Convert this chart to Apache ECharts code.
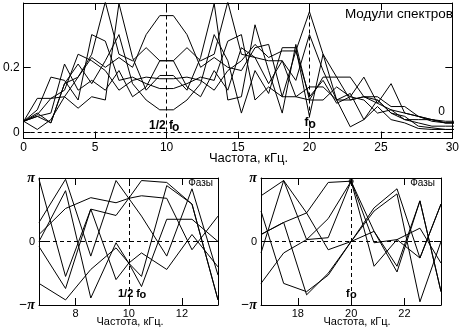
<!DOCTYPE html>
<html><head><meta charset="utf-8">
<script src="https://cdn.jsdelivr.net/npm/echarts@6/dist/echarts.min.js"></script>
<style>html,body{margin:0;padding:0;background:#fff}#c{width:462px;height:332px}</style>
</head><body><div id="c"></div>
<script>
// ---- data ----
const fTop = [0,0.952,1.905,2.857,3.81,4.762,5.714,6.667,7.619,8.571,9.524,10.476,11.429,12.381,13.333,14.286,15.238,16.19,17.143,18.095,19.048,20,20.952,21.905,22.857,23.81,24.762,25.714,26.667,27.619,28.571,29.524,30.476];
const mod1 = [.035,.055,.105,.11,.17,.23,.20,.23,.20,.30,.358,.358,.30,.20,.23,.20,.19,.26,.27,.11,.25,.37,.24,.17,.10,.11,.11,.08,.08,.05,.04,.03,.03];
const mod2 = [.035,.05,.03,.15,.17,.24,.40,.24,.22,.26,.22,.22,.26,.22,.24,.40,.24,.23,.22,.22,.16,.30,.19,.10,.12,.04,.10,.06,.05,.02,.015,.01,.01];
const mod3 = [.035,.01,.04,.11,.075,.11,.10,.395,.23,.13,.175,.175,.13,.23,.395,.10,.11,.33,.19,.06,.27,.10,.17,.17,.17,.11,.09,.07,.06,.05,.04,.03,.03];
const mod4 = [.035,.06,.03,.15,.21,.15,.22,.30,.15,.10,.07,.07,.10,.15,.30,.22,.06,.19,.12,.26,.26,.05,.24,.10,.018,.04,.08,.04,.03,.013,.01,.01,.01];
const mod5 = [.035,.105,.105,.13,.24,.22,.19,.13,.16,.17,.165,.165,.17,.16,.13,.19,.22,.27,.23,.25,.25,.11,.16,.09,.11,.17,.09,.15,.06,.05,.035,.03,.03];
const mod6 = [.035,.07,.17,.16,.10,.30,.28,.16,.17,.15,.135,.135,.15,.17,.16,.28,.30,.10,.14,.11,.11,.10,.10,.14,.11,.10,.06,.07,.04,.03,.02,.02,.02];
const mod7 = [.035,.05,.06,.21,.13,.16,.13,.19,.11,.14,.22,.22,.14,.11,.19,.13,.26,.23,.15,.22,.11,.14,.14,.10,.10,.11,.10,.06,.04,.04,.04,.035,.035];

// phases in units of pi
const fLeft = [6.62,7.62,8.57,9.52,10,10.48,11.43,12.38,13.36];
const phL1 = [0.98,-0.55,0.51,0.41,0.68,0.96,0.93,0.59,-0.92];
const phL2 = [0.30,0.98,-0.23,0.96,0.68,0.40,-0.23,0.83,-0.53];
const phL3 = [0.11,0.52,0.69,0.61,0.68,0.72,0.68,-0.13,0.40];
const phL4 = [0.0,0.80,-0.89,-0.02,-0.34,-0.71,0.35,0.35,0.0];
const phL5 = [-0.08,-0.74,0.51,-0.60,-0.34,-0.18,-0.44,0.11,-0.40];
const phL6 = [-0.66,-0.92,-0.44,-0.10,-0.34,-0.55,0.88,0.59,-0.92];

const fRight = [16.62,17.47,18.33,19.14,20,20.86,21.72,22.58,23.37];
const phR1 = [0.72,0.96,0.03,0.06,0.95,0.16,-0.39,0.64,-0.79];
const phR2 = [0.48,-0.66,-0.79,-0.53,0,0.53,0.83,-0.26,0.59];
const phR3 = [0.11,0.30,-0.84,-0.50,0,0.48,0.75,-0.95,0];
const phR4 = [-0.18,0.96,0.45,0.93,0.95,-0.02,0.03,0.21,-0.34];
const phR5 = [-0.66,-0.18,0.03,0.36,0.95,-0.39,0.03,-0.26,0.59];
const phR6 = [0.11,0.30,0.45,-0.13,0,0.16,-0.48,0.64,-0.79];

const topXTicks = [0,5,10,15,20,25,30];
const topYTicks = [0,0.2];
const leftXTicks = [8,10,12];
const rightXTicks = [18,20,22];
const phaseTicks = [-1,0,1];

// ---- chart ----
const FONT = 'Liberation Sans, Arial, sans-serif';
const BLK = '#000';
const chart = echarts.init(document.getElementById('c'), null, {renderer:'canvas'});

function xAxes(grid, min, max, ticks, fs, margin) {
  const base = {type:'value', gridIndex:grid, min:min, max:max,
    axisLine:{show:true, onZero:false, lineStyle:{color:BLK,width:1}},
    splitLine:{show:false}};
  return [
    Object.assign({}, base, {position:'bottom',
      axisTick:{show:true, inside:true, length:7, customValues:ticks, lineStyle:{color:BLK}},
      axisLabel:{show:true, customValues:ticks, color:BLK, fontFamily:FONT, fontSize:fs, margin:margin,
        showMinLabel:true, showMaxLabel:true}}),
    Object.assign({}, base, {position:'top',
      axisTick:{show:true, inside:true, length:7, customValues:ticks, lineStyle:{color:BLK}},
      axisLabel:{show:false}})
  ];
}
function yAxes(grid, min, max, ticks, fmt, fs, rich) {
  const base = {type:'value', gridIndex:grid, min:min, max:max,
    axisLine:{show:true, onZero:false, lineStyle:{color:BLK,width:1}},
    splitLine:{show:false}};
  return [
    Object.assign({}, base, {position:'left',
      axisTick:{show:true, inside:true, length:7, customValues:ticks, lineStyle:{color:BLK}},
      axisLabel:{show:true, customValues:ticks, formatter:fmt, color:BLK, fontFamily:FONT, fontSize:fs, margin:4,
        showMinLabel:true, showMaxLabel:true, rich:rich}}),
    Object.assign({}, base, {position:'right',
      axisTick:{show:true, inside:true, length:7, customValues:ticks, lineStyle:{color:BLK}},
      axisLabel:{show:false}})
  ];
}

const piRich = {p:{fontFamily:'Liberation Serif, DejaVu Serif, serif', fontWeight:'bold', fontStyle:'italic', fontSize:14, color:BLK}};
const piFmt = v => (Math.abs(v) < 1e-9 ? '0' : (v > 0 ? '{p|π}' : '{p|−π}'));

const dash = {color:BLK, width:1, type:[4,3]};
function mk(lines) {
  return {silent:true, symbol:['none','none'], label:{show:false}, lineStyle:dash,
    emphasis:{disabled:true}, data:lines};
}
function lineSeries(xs, ys, xi, yi, markLine) {
  const s = {type:'line', xAxisIndex:xi, yAxisIndex:yi, data:xs.map((x,i)=>[x, ys[i]]),
    symbol:'none', showSymbol:false, clip:true, silent:true,
    lineStyle:{color:BLK, width:1}, emphasis:{disabled:true}};
  if (markLine) s.markLine = markLine;
  return s;
}

const series = [];
[mod1,mod2,mod3,mod4,mod5,mod6,mod7].forEach((m,i)=>{
  series.push(lineSeries(fTop, m, 0, 0, i===0 ? mk([{xAxis:10},{xAxis:20},{yAxis:0}]) : null));
});
[phL1,phL2,phL3,phL4,phL5,phL6].forEach((m,i)=>{
  series.push(lineSeries(fLeft, m, 2, 2, i===0 ? mk([{xAxis:10},{yAxis:0}]) : null));
});
[phR1,phR2,phR3,phR4,phR5,phR6].forEach((m,i)=>{
  series.push(lineSeries(fRight, m, 4, 4, i===0 ? mk([{xAxis:20},{yAxis:0}]) : null));
});
series.push({type:'scatter', xAxisIndex:4, yAxisIndex:4, data:[[20,0.95]], symbol:'circle', symbolSize:5,
  itemStyle:{color:BLK}, silent:true});

function txt(text, x, y, size, opts) {
  return {type:'text', silent:true, style:Object.assign({text:text, x:x, y:y,
    font: (opts && opts.bold ? 'bold ' : '') + size + 'px ' + FONT,
    fill:BLK, textAlign:(opts && opts.align) || 'left', textVerticalAlign:'middle'}, {})};
}

const option = {
  animation:false,
  backgroundColor:'#fff',
  grid:[
    {left:19, top:3, width:437, height:135.5},
    {left:39, top:178, width:179, height:127},
    {left:261, top:178, width:180, height:127}
  ],
  xAxis:[].concat(
    xAxes(0, 0, 30, topXTicks, 12, 3),
    xAxes(1, 6.62, 13.36, leftXTicks, 11, 3),
    xAxes(2, 16.62, 23.37, rightXTicks, 11, 3)
  ),
  yAxis:[].concat(
    yAxes(0, -0.0177, 0.3966, topYTicks, v => (Math.abs(v) < 1e-9 ? '0' : '0.2'), 12),
    yAxes(1, -1, 1, phaseTicks, piFmt, 11, piRich),
    yAxes(2, -1, 1, phaseTicks, piFmt, 11, piRich)
  ),
  series:series,
  graphic:[
    txt('Модули спектров', 453, 14, 13.5, {align:'right'}),
    txt('0', 441.5, 112, 12, {align:'center'}),
    txt('1/2 f', 149, 125.5, 12, {bold:true}),
    txt('o', 172, 127.5, 12, {bold:true}),
    txt('f', 304.5, 123, 12, {bold:true}),
    txt('o', 308.5, 124.5, 12, {bold:true}),
    txt('Частота, кГц.', 248.5, 158, 13, {align:'center'}),
    txt('Фазы', 213, 183, 10, {align:'right'}),
    txt('Фазы', 435, 183, 10, {align:'right'}),
    txt('1/2 f', 118, 293.5, 11, {bold:true}),
    txt('o', 139.5, 295, 11, {bold:true}),
    txt('f', 346, 293.5, 11, {bold:true}),
    txt('o', 350, 295, 11, {bold:true}),
    txt('Частота, кГц.', 130, 322, 11, {align:'center'}),
    txt('Частота, кГц.', 357, 322, 11, {align:'center'})
  ]
};
chart.setOption(option);
</script></body></html>
